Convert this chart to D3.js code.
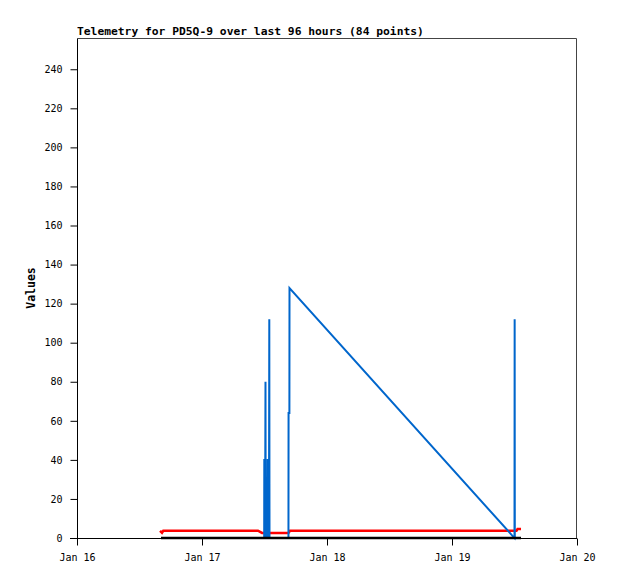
<!DOCTYPE html>
<html>
<head>
<meta charset="utf-8">
<script src="https://cdn.jsdelivr.net/npm/d3@7"></script>
<style>
    body { margin: 0; background: #fff; }
    text { font-family: "DejaVu Sans Mono", monospace; }
</style>
</head>
<body>
<div id="chart"></div>
<script>
// Hours since Jan 16 00:00 for each sample, and the values
var redHours   = [15.94, 16.32, 16.57, 34.75, 35.52, 40.60, 40.90, 84.38, 84.58, 85.25];
var redValues  = [3.7, 2.7, 3.7, 3.7, 2.6, 2.6, 3.7, 3.7, 4.6, 4.6];

var blueHours  = [16.13, 35.94, 35.96, 36.15, 36.19, 36.23, 36.58, 36.61, 36.88, 36.92, 36.96, 40.60, 40.62, 40.78, 40.80, 83.65, 84.00, 84.03, 84.06];
var blueValues = [0, 0, 40, 40, 80, 0, 0, 40, 40, 112, 0, 0, 64, 64, 128, 1, 0, 112, 0];

var blackHours  = [16.13, 35.90, 40.57, 84.13, 85.25];
var blackValues = [0, 0, 0, 0, 0];

var yTicks = [0, 20, 40, 60, 80, 100, 120, 140, 160, 180, 200, 220, 240];
var xTickLabels = ["Jan 16", "Jan 17", "Jan 18", "Jan 19", "Jan 20"];
var titleText = "Telemetry for PD5Q-9 over last 96 hours (84 points)";

function main() {
    var width = 618, height = 579;
    var margin = { top: 38, right: 41, bottom: 41, left: 77 };
    var w = width - margin.left - margin.right;
    var h = height - margin.top - margin.bottom;

    var start = new Date(2024, 0, 16);
    function toDate(hr) { return new Date(start.getTime() + hr * 3600 * 1000); }

    var x = d3.scaleTime()
        .domain([start, toDate(96)])
        .range([0, w]);
    var y = d3.scaleLinear()
        .domain([0, 256])
        .range([h, 0]);

    var svg = d3.select("#chart").append("svg")
        .attr("width", width)
        .attr("height", height);

    svg.append("text")
        .attr("x", margin.left)
        .attr("y", 35)
        .style("font-size", "11.3px")
        .style("font-weight", "bold")
        .text(titleText);

    var g = svg.append("g")
        .attr("transform", "translate(" + margin.left + "," + margin.top + ")");

    // frame (top / right)
    g.append("path")
        .attr("d", "M0.5,0.5H" + (w - 0.5) + "V" + h)
        .attr("fill", "none")
        .attr("stroke", "#444")
        .attr("stroke-width", 1);

    // Y axis
    var yAxis = g.append("g")
        .attr("transform", "translate(0.5,0)")
        .call(d3.axisLeft(y).tickValues(yTicks).tickSize(7).tickPadding(8));
    yAxis.selectAll("text").style("font-size", "10px").style("font-family", "DejaVu Sans Mono, monospace");
    yAxis.select(".domain").attr("d", "M0," + (h + 0.5) + "V0.5");

    // X axis
    var xTicks = d3.range(5).map(function (d) { return toDate(d * 24); });
    var xAxis = g.append("g")
        .attr("transform", "translate(0," + (h + 0.5) + ")")
        .call(d3.axisBottom(x).tickValues(xTicks).tickSize(7).tickPadding(8)
            .tickFormat(function (d, i) { return xTickLabels[i]; }));
    xAxis.selectAll("text").style("font-size", "10px").style("font-family", "DejaVu Sans Mono, monospace");
    xAxis.select(".domain").attr("d", "M-7,0H" + w);

    svg.append("text")
        .attr("transform", "translate(35," + (margin.top + h / 2) + ") rotate(-90)")
        .attr("text-anchor", "middle")
        .style("font-size", "11.5px")
        .style("font-weight", "bold")
        .text("Values");

    var line = d3.line()
        .x(function (d) { return x(toDate(d[0])); })
        .y(function (d) { return y(d[1]); });

    function zip(a, b) { return a.map(function (v, i) { return [v, b[i]]; }); }

    g.append("path")
        .datum(zip(redHours, redValues))
        .attr("d", line)
        .attr("fill", "none")
        .attr("stroke", "#ff0000")
        .attr("stroke-width", 2.5);

    g.append("path")
        .datum(zip(blueHours, blueValues))
        .attr("d", line)
        .attr("fill", "none")
        .attr("stroke", "#0066cc")
        .attr("stroke-width", 2);

    g.append("path")
        .datum(zip(blackHours, blackValues))
        .attr("d", line)
        .attr("fill", "none")
        .attr("stroke", "#000")
        .attr("stroke-width", 2.5);
}

main();
</script>
</body>
</html>
